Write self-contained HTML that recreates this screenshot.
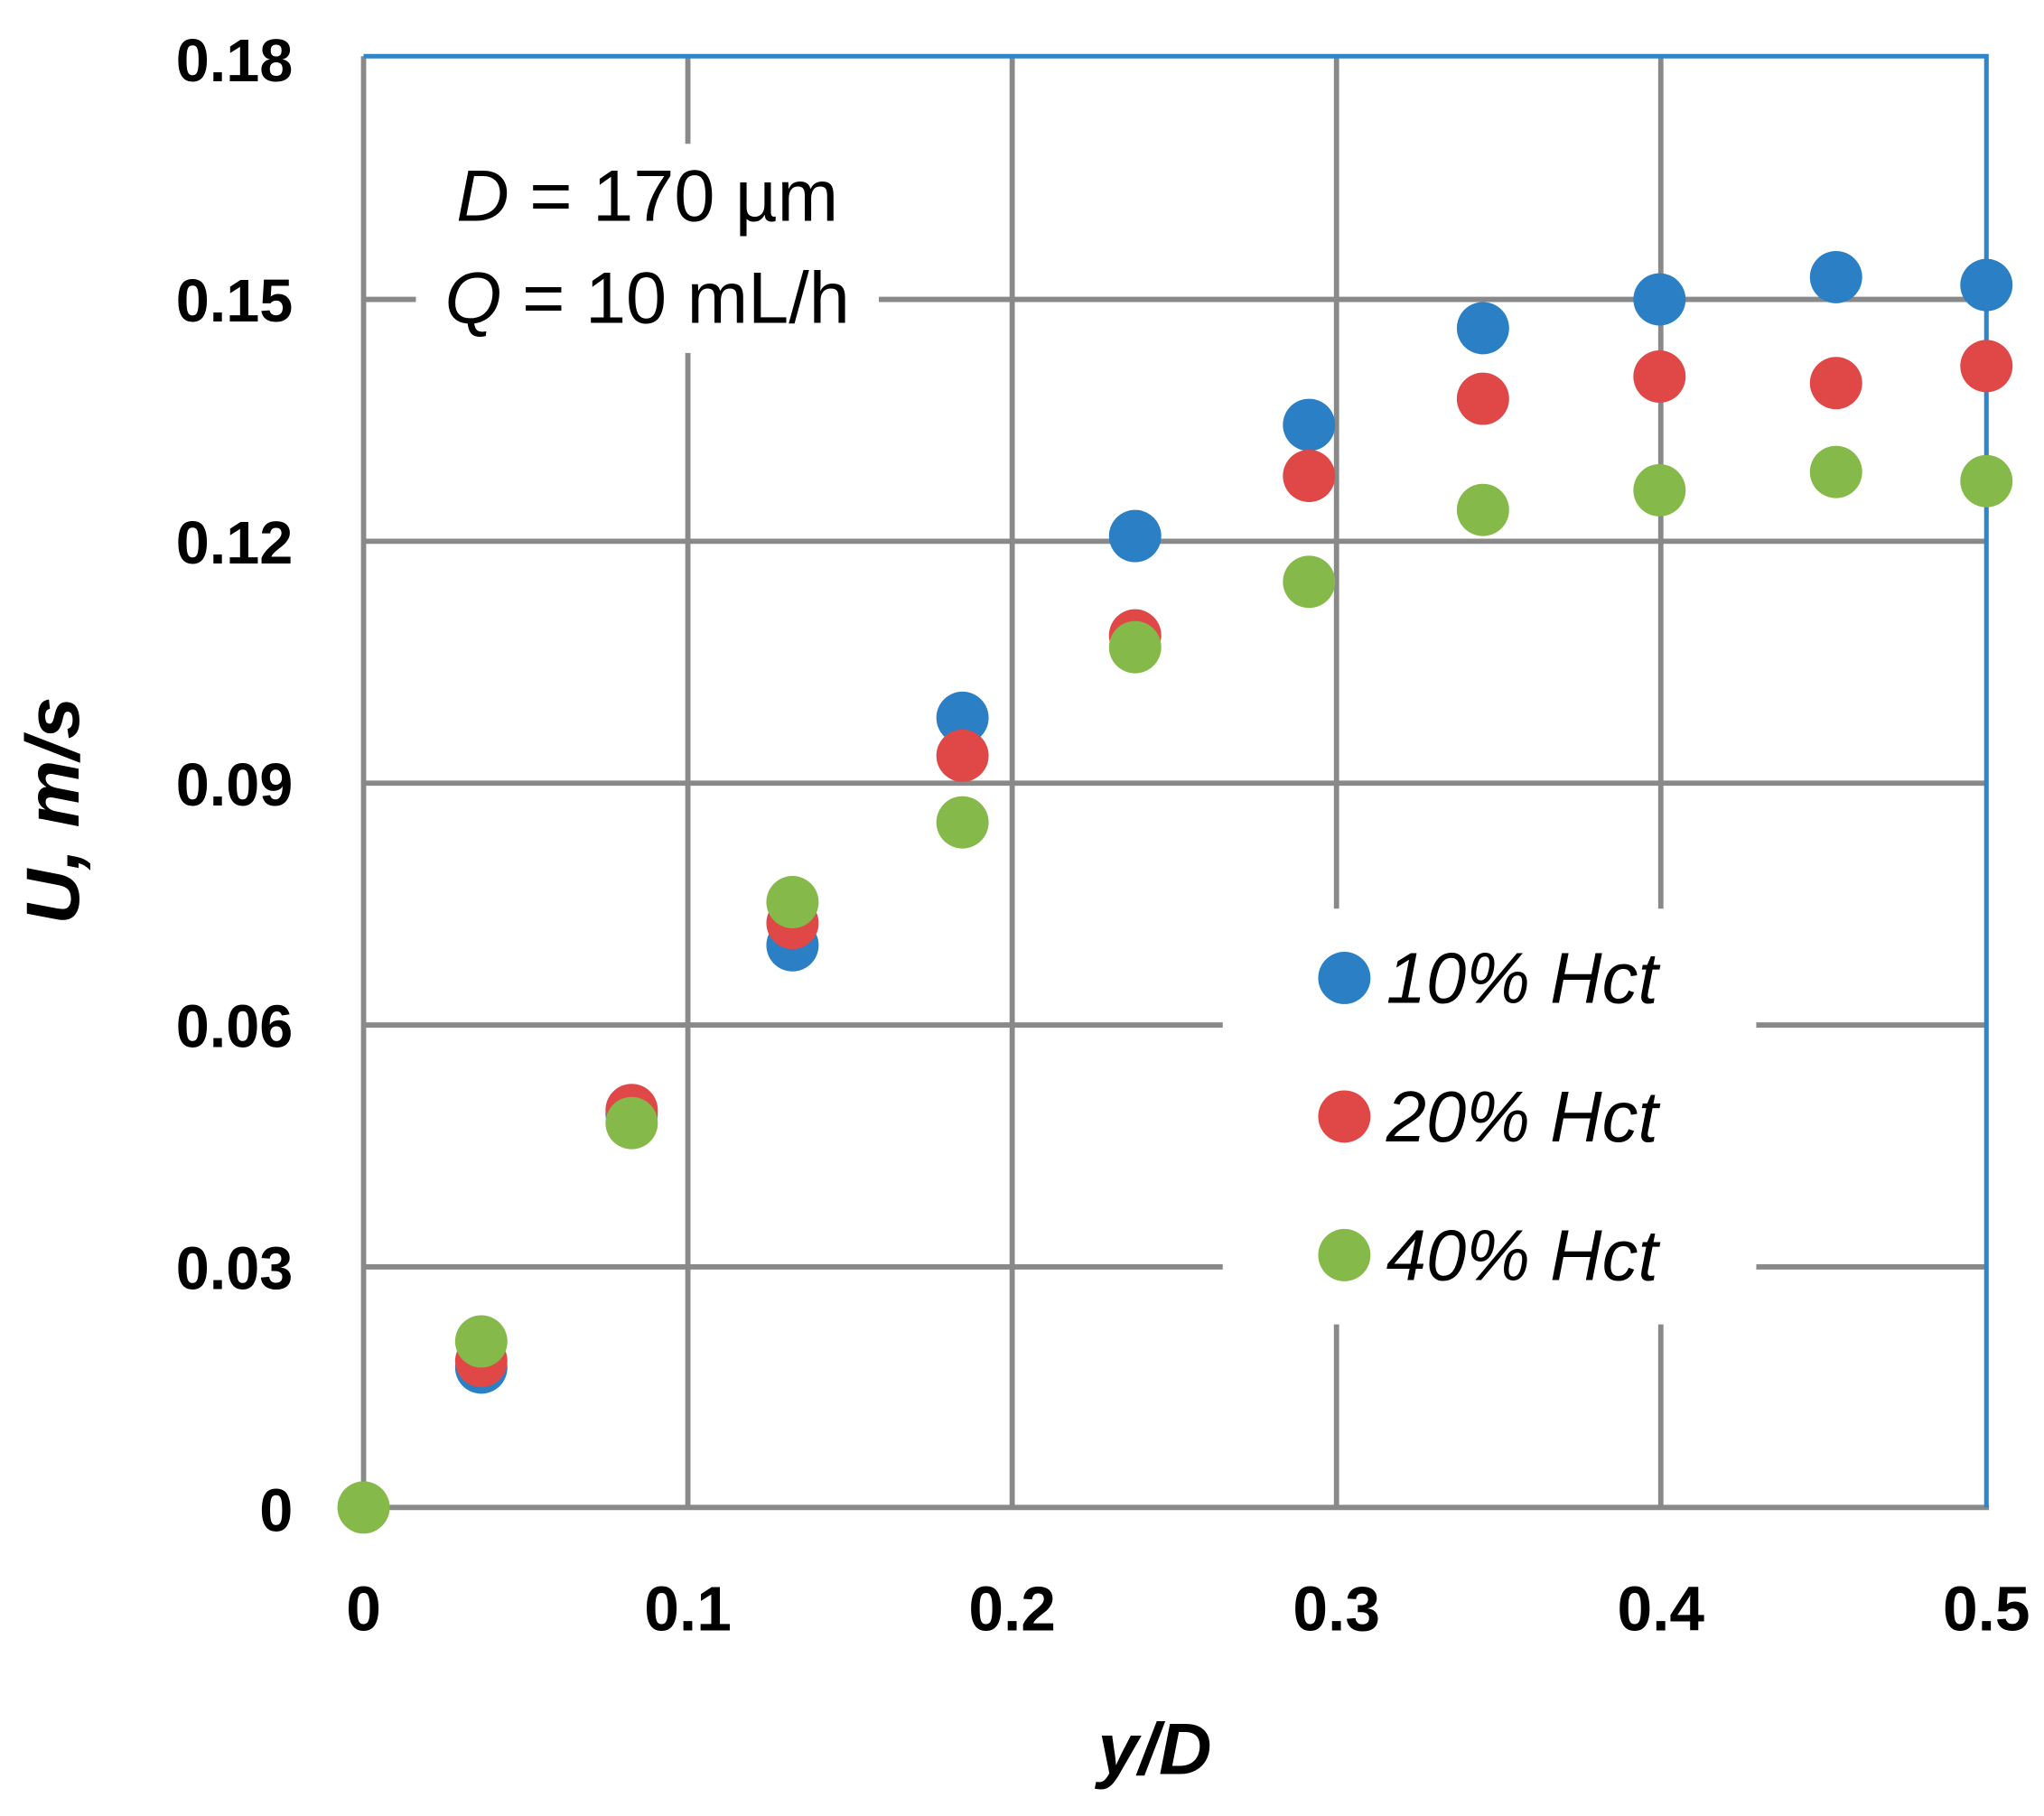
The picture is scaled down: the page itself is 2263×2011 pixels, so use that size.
<!DOCTYPE html>
<html><head><meta charset="utf-8"><style>html,body{margin:0;padding:0;background:#fff}svg{display:block}</style></head>
<body>
<svg width="2263" height="2011" viewBox="0 0 1563 1389" xmlns="http://www.w3.org/2000/svg" font-family="Liberation Sans, sans-serif">
<rect width="1563" height="1389" fill="#fff"/>
<g stroke="#898989" stroke-width="4">
<line x1="278" y1="229" x2="1519" y2="229"/>
<line x1="278" y1="414" x2="1519" y2="414"/>
<line x1="278" y1="599" x2="1519" y2="599"/>
<line x1="278" y1="784" x2="1519" y2="784"/>
<line x1="278" y1="969" x2="1519" y2="969"/>
<line x1="526" y1="43" x2="526" y2="1153"/>
<line x1="774" y1="43" x2="774" y2="1153"/>
<line x1="1022" y1="43" x2="1022" y2="1153"/>
<line x1="1270" y1="43" x2="1270" y2="1153"/>
<line x1="278" y1="43" x2="278" y2="1155"/>
<line x1="276" y1="1153" x2="1521" y2="1153"/>
</g>
<g stroke="#2e86c8" stroke-width="3.5" fill="none">
<polyline points="278,43 1519,43 1519,1153"/>
</g>
<rect x="318" y="110" width="354" height="160" fill="#fff"/>
<rect x="935" y="695" width="408" height="318" fill="#fff"/>
<g font-size="46" font-weight="bold" fill="#000" text-anchor="end">
<text x="224" y="62">0.18</text>
<text x="224" y="246">0.15</text>
<text x="224" y="431">0.12</text>
<text x="224" y="616">0.09</text>
<text x="224" y="801">0.06</text>
<text x="224" y="986">0.03</text>
<text x="224" y="1171">0</text>
</g>
<g font-size="48" font-weight="bold" fill="#000" text-anchor="middle">
<text x="278" y="1247">0</text>
<text x="526" y="1247">0.1</text>
<text x="774" y="1247">0.2</text>
<text x="1022" y="1247">0.3</text>
<text x="1270" y="1247">0.4</text>
<text x="1519" y="1247">0.5</text>
</g>
<text x="883" y="1357" font-size="56" font-weight="bold" font-style="italic" text-anchor="middle">y/D</text>
<text transform="translate(60,620) rotate(-90)" font-size="58" font-weight="bold" font-style="italic" text-anchor="middle">U, m/s</text>
<g font-size="56" text-anchor="middle">
<text x="495" y="169"><tspan font-style="italic">D</tspan> = 170 µm</text>
<text x="495" y="247"><tspan font-style="italic">Q</tspan> = 10 mL/h</text>
</g>
<g font-size="55" font-style="italic">
<text x="1060" y="767">10% Hct</text>
<text x="1060" y="873">20% Hct</text>
<text x="1060" y="979">40% Hct</text>
</g>
<circle cx="1028" cy="748" r="20" fill="#2a7fc5"/>
<circle cx="1028" cy="854" r="20" fill="#e04848"/>
<circle cx="1028" cy="960" r="20" fill="#85b94a"/>
<g fill="#2a7fc5">
<circle cx="368" cy="1046" r="20"/><circle cx="483" cy="852" r="20"/><circle cx="606" cy="723" r="20"/><circle cx="736" cy="549" r="20"/><circle cx="868" cy="410" r="20"/><circle cx="1001" cy="325" r="20"/><circle cx="1134" cy="251" r="20"/><circle cx="1269" cy="229" r="20"/><circle cx="1404" cy="212" r="20"/><circle cx="1519" cy="218" r="20"/>
</g>
<g fill="#e04848">
<circle cx="368" cy="1041" r="20"/><circle cx="483" cy="849" r="20"/><circle cx="606" cy="706" r="20"/><circle cx="736" cy="578" r="20"/><circle cx="868" cy="486" r="20"/><circle cx="1001" cy="364" r="20"/><circle cx="1134" cy="305" r="20"/><circle cx="1269" cy="288" r="20"/><circle cx="1404" cy="293" r="20"/><circle cx="1519" cy="280" r="20"/>
</g>
<g fill="#85b94a">
<circle cx="278" cy="1153" r="20"/><circle cx="368" cy="1026" r="20"/><circle cx="483" cy="859" r="20"/><circle cx="606" cy="690" r="20"/><circle cx="736" cy="629" r="20"/><circle cx="868" cy="495" r="20"/><circle cx="1001" cy="445" r="20"/><circle cx="1134" cy="390" r="20"/><circle cx="1269" cy="375" r="20"/><circle cx="1404" cy="361" r="20"/><circle cx="1519" cy="368" r="20"/>
</g>
</svg>
</body></html>
